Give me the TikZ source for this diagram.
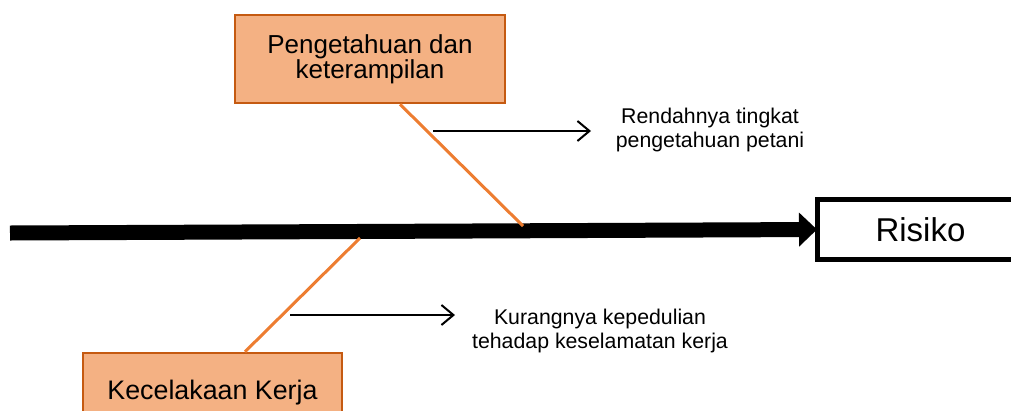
\documentclass[tikz,border=0pt]{standalone}
\usepackage{fontspec}
\setmainfont{Liberation Sans}
\usetikzlibrary{arrows.meta}
\definecolor{boxfill}{HTML}{F4B183}
\definecolor{boxline}{HTML}{C55A11}
\definecolor{bonecol}{HTML}{ED7D31}
\begin{document}
\begin{tikzpicture}[x=1pt,y=-1pt,
  causebox/.style={draw=boxline,fill=boxfill,line width=2.5pt,inner sep=0pt,
    align=center,text=black},
  effectbox/.style={draw=black,fill=white,line width=5pt,inner sep=0pt},
  bone/.style={draw=bonecol,line width=3pt},
  spine/.style={draw=black,line width=15pt,-{Triangle[length=18pt,width=33pt]}},
  subarrow/.style={draw=black,line width=2pt,-{Straight Barb[length=12pt,width=20pt,line width=2pt]}},
  subtext/.style={align=center,inner sep=0pt,font=\fontsize{21.3}{24.5}\selectfont},
]
\useasboundingbox (0,0) rectangle (1011,410);
\clip (0,0) rectangle (1011,410);

% head of the fish: the effect
\node[effectbox,minimum width=206pt,minimum height=60pt] (risk) at (920.5,229.5)
  {\fontsize{33}{38}\selectfont Risiko};

% cause boxes
\node[causebox,minimum width=270pt,minimum height=88pt] (top) at (370,59)
  {\fontsize{26}{30}\selectfont Pengetahuan dan\\\fontsize{26}{30}\selectfont keterampilan};
\node[causebox,minimum width=259pt,minimum height=80pt] (bot) at (212.5,393)
  {\fontsize{26.8}{30}\selectfont Kecelakaan Kerja};

% spine
\coordinate (tail) at (10,233);
\draw[spine] (tail) -- (risk.west -| 817,233);

% bones
\coordinate (j1) at (523,226);
\coordinate (j2) at (360,238);
\draw[bone] (top.south -| 400,0) -- (j1);
\draw[bone] (bot.north -| 245,0) -- (j2);

% sub-causes
\node[subtext] (t1) at (710,130) {Rendahnya tingkat\\pengetahuan petani};
\node[subtext] (t2) at (600,331) {Kurangnya kepedulian\\tehadap keselamatan kerja};
\coordinate (s1) at (433,131);
\coordinate (s2) at (290,315);
\draw[subarrow] (s1) -- (s1 -| 591,0);
\draw[subarrow] (s2) -- (s2 -| 455,0);
\end{tikzpicture}
\end{document}
